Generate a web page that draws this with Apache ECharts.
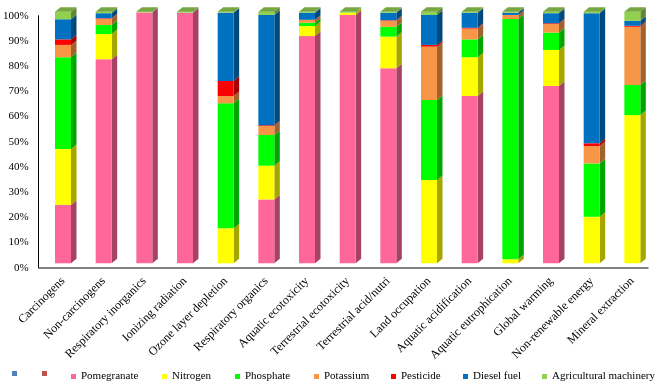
<!DOCTYPE html>
<html>
<head>
<meta charset="utf-8">
<script src="https://cdn.jsdelivr.net/npm/echarts@6/dist/echarts.min.js"></script>
<style>html,body{margin:0;padding:0;background:#fff}#c{width:660px;height:384px}</style>
</head>
<body>
<div id="c"></div>
<script>
var categories = ['Carcinogens','Non-carcinogens','Respiratory inorganics','Ionizing radiation','Ozone layer depletion','Respiratory organics','Aquatic ecotoxicity','Terrestrial ecotoxicity','Terrestrial acid/nutri','Land occupation','Aquatic acidification','Aquatic eutrophication','Global warming','Non-renewable energy','Mineral extraction'];
var pomegranate = [23.2, 81.1, 99.7, 99.6, 0, 25.4, 90.3, 98.7, 77.5, 0, 66.5, 0, 70.5, 0, 0];
var nitrogen    = [22.2, 10.0, 0, 0, 13.9, 13.4, 4.0, 0.9, 12.6, 33.1, 15.4, 1.6, 14.3, 18.5, 58.9];
var phosphate   = [36.5, 3.6, 0, 0, 49.7, 12.2, 1.3, 0.1, 3.9, 31.8, 7.1, 95.5, 6.9, 21.2, 12.0];
var potassium   = [4.9, 2.5, 0, 0, 2.9, 3.6, 1.1, 0, 2.4, 21.2, 4.3, 1.6, 3.4, 6.9, 23.1];
var pesticide   = [2.2, 0.2, 0, 0, 6.0, 0.3, 0.1, 0, 0.2, 0.7, 0.3, 0, 0.3, 1.1, 0.4];
var dieselFuel  = [8.0, 2.0, 0, 0, 27.1, 43.8, 2.8, 0, 3.0, 11.9, 6.0, 0.9, 4.0, 51.7, 2.0];
var agriMachinery = [3.0, 0.6, 0.3, 0.4, 0.4, 1.3, 0.4, 0.3, 0.4, 1.3, 0.4, 0.4, 0.6, 0.6, 3.6];
var yTicks = [0, 10, 20, 30, 40, 50, 60, 70, 80, 90, 100];

var seriesNames = ['Pomegranate','Nitrogen','Phosphate','Potassium','Pesticide','Diesel fuel','Agricultural machinery'];
var seriesValues = [pomegranate, nitrogen, phosphate, potassium, pesticide, dieselFuel, agriMachinery];
var seriesColors = ['#FF6699','#FFFF00','#00FF00','#F79646','#FF0000','#0070C0','#92D050'];

function shade(hex, f){
  var n = parseInt(hex.slice(1),16);
  var r = Math.round(((n>>16)&255)*f), g = Math.round(((n>>8)&255)*f), b = Math.round((n&255)*f);
  return 'rgb(' + r + ',' + g + ',' + b + ')';
}

// build stacked data [catIndex, start, end, isTop]
var stacked = seriesValues.map(function(){ return []; });
for (var c = 0; c < categories.length; c++) {
  var cum = 0, lastNonZero = -1;
  for (var s = 0; s < seriesValues.length; s++) if (seriesValues[s][c] > 0) lastNonZero = s;
  for (var s2 = 0; s2 < seriesValues.length; s2++) {
    var v = seriesValues[s2][c];
    stacked[s2].push([c, cum, cum + v, s2 === lastNonZero ? 1 : 0]);
    cum += v;
  }
}

function makeRender(color){
  var side = shade(color, 0.65), top = shade(color, 0.8);
  return function(params, api){
    var ci = api.value(0), a = api.value(1), b = api.value(2), isTop = api.value(3);
    if (b - a <= 0) return null;
    var p0 = api.coord([ci, a]), p1 = api.coord([ci, b]);
    var bw = api.size([1, 0])[0] * 0.393;
    var dx = 5.5, dy = 4.5;
    var xl = p0[0] - bw / 2, xr = p0[0] + bw / 2;
    var children = [
      {type: 'polygon', shape: {points: [[xr, p0[1]], [xr, p1[1]], [xr + dx, p1[1] - dy], [xr + dx, p0[1] - dy]]}, style: {fill: side}},
      {type: 'rect', shape: {x: xl, y: p1[1], width: bw, height: p0[1] - p1[1]}, style: {fill: color}}
    ];
    if (isTop) {
      children.push({type: 'polygon', shape: {points: [[xl, p1[1]], [xr, p1[1]], [xr + dx, p1[1] - dy], [xl + dx, p1[1] - dy]]}, style: {fill: top}});
    }
    return {type: 'group', children: children};
  };
}

var series = [
  {name: 'blankA', type: 'custom', xAxisIndex: 1, yAxisIndex: 1, itemStyle: {color: '#4F81BD'}, data: [], renderItem: function(){ return null; }},
  {name: 'blankB', type: 'custom', xAxisIndex: 1, yAxisIndex: 1, itemStyle: {color: '#C0504D'}, data: [], renderItem: function(){ return null; }}
];
seriesNames.forEach(function(n, i){
  series.push({
    name: n, type: 'custom', xAxisIndex: 1, yAxisIndex: 1,
    itemStyle: {color: seriesColors[i]},
    encode: {x: 0, y: [1, 2]},
    data: stacked[i],
    renderItem: makeRender(seriesColors[i]),
    silent: true
  });
});

var legendPos = [
  ['blankA', 12], ['blankB', 42], ['Pomegranate', 71], ['Nitrogen', 162], ['Phosphate', 235],
  ['Potassium', 314], ['Pesticide', 391], ['Diesel fuel', 463], ['Agricultural machinery', 542]
];
var legends = legendPos.map(function(p){
  return {
    data: [p[0]], left: p[1], top: 371, padding: 0, itemWidth: 5, itemHeight: 5, icon: 'rect',
    selectedMode: false,
    formatter: function(name){ return name.indexOf('blank') === 0 ? '' : name; },
    textStyle: {fontFamily: 'Liberation Serif', fontSize: 11, color: '#000'}
  };
});

var chart = echarts.init(document.getElementById('c'), null, {renderer: 'canvas'});
chart.setOption({
  animation: false,
  backgroundColor: '#fff',
  legend: legends,
  grid: [
    {left: 38, right: 12, top: 15.7, bottom: 116.3},
    {left: 42.67, right: 7.33, top: 11.7, bottom: 120.7}
  ],
  xAxis: [
    {type: 'category', gridIndex: 0, data: categories, axisLine: {lineStyle: {color: '#595959', width: 1.5}}, axisTick: {show: false}, axisLabel: {show: false}},
    {type: 'category', gridIndex: 1, data: categories, axisLine: {show: false}, axisTick: {show: false},
     axisLabel: {interval: 0, rotate: 45, margin: 16, fontFamily: 'Liberation Serif', fontSize: 12, color: '#000'}}
  ],
  yAxis: [
    {type: 'value', gridIndex: 0, min: yTicks[0], max: yTicks[yTicks.length - 1], interval: 10,
     axisLine: {show: true, lineStyle: {color: '#000', width: 1}}, axisTick: {show: false}, splitLine: {show: false},
     axisLabel: {formatter: '{value}%', margin: 10, fontFamily: 'Liberation Serif', fontSize: 11, color: '#000'}},
    {type: 'value', gridIndex: 1, min: 0, max: 100, show: false, splitLine: {show: false}}
  ],
  series: series
});
</script>
</body>
</html>
